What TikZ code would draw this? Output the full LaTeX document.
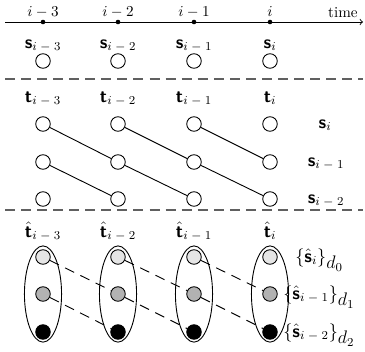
\documentclass[tikz,border=0pt]{standalone}
\usepackage{amsmath}
\usepackage{bm}
\usepackage{tikz}
\usetikzlibrary{shapes.geometric}
\definecolor{dividerGray}{HTML}{606060}
\newcommand{\svar}{\bm{\mathsf{s}}}
\newcommand{\tvar}{\bm{\mathsf{t}}}

\begin{document}
\begin{tikzpicture}[x=0.66pt, y=0.66pt,
    cell/.style={circle, draw, line width=0.6pt, minimum size=9.6pt, inner sep=0pt},
    timedot/.style={circle, fill, minimum size=3pt, inner sep=0pt},
    divider/.style={dividerGray, line width=1pt, dash pattern=on 6.6pt off 4pt},
    stack/.style={ellipse, draw, line width=0.6pt, minimum width=24.5pt, minimum height=63.5pt, inner sep=0pt},
    link/.style={line width=0.6pt},
    hatlink/.style={line width=0.6pt, dash pattern=on 6.6pt off 4.6pt},
    varlabel/.style={font=\large, inner sep=2pt}]
    \useasboundingbox (0,0) rectangle (365,351);
    \coordinate (tstart) at (5,329);
    \coordinate (tend) at (363,329);
    \draw[->, line width=0.6pt] (tstart) -- (tend);
    \node[anchor=base east] (time) at (363,334) {time};
    \coordinate (divAl) at (5,272);
    \coordinate (divAr) at (363,272);
    \draw[divider] (divAl) -- (divAr);
    \coordinate (divBl) at (5,141);
    \coordinate (divBr) at (363,141);
    \draw[divider] (divBl) -- (divBr);
    \foreach \c/\x/\lab/\sub in {0/43/i-3/i\;-\;3, 1/118/i-2/i\;-\;2, 2/194/i-1/i\;-\;1, 3/270/i/i} {
        \node[timedot] (d\c) at (\x,329) {};
        \node[anchor=base] (l\c) at (\x,335) {$\lab$};
        \node[varlabel, anchor=base] (s\c) at (\x,303) {$\svar_{\sub}$};
        \node[cell] (a\c) at (\x,290) {};
        \node[varlabel, anchor=base] (t\c) at (\x,249) {$\tvar_{\sub}$};
        \node[cell] (b\c) at (\x,227) {};
        \node[cell] (m\c) at (\x,189) {};
        \node[cell] (n\c) at (\x,152) {};
        \node[varlabel, anchor=base] (h\c) at (\x,114) {$\hat{\tvar}_{\sub}$};
        \node[stack] (e\c) at (\x,57) {};
        \node[cell, fill=gray!20] (p\c) at (\x,94) {};
        \node[cell, fill=gray!60] (q\c) at (\x,57) {};
        \node[cell, fill=black] (r\c) at (\x,19) {};
    }
    \foreach \c/\n in {0/1, 1/2, 2/3} {
        \draw[link] (b\c) -- (m\n);
        \draw[link] (m\c) -- (n\n);
        \draw[hatlink] (p\c) -- (q\n);
        \draw[hatlink] (q\c) -- (r\n);
    }
    \node[varlabel, anchor=base] (rs0) at (325,223) {$\svar_i$};
    \node[varlabel, anchor=base] (rs1) at (326,185) {$\svar_{i\;-\;1}$};
    \node[varlabel, anchor=base] (rs2) at (326,148) {$\svar_{i\;-\;2}$};
    \node[varlabel, anchor=base west] (rh0) at (292,89) {$\{\hat{\svar}_i\}_{\textstyle d_0}$};
    \node[varlabel, anchor=base west] (rh1) at (280,52) {$\{\hat{\svar}_{i\;-\;1}\}_{\textstyle d_1}$};
    \node[varlabel, anchor=base west] (rh2) at (280,14) {$\{\hat{\svar}_{i\;-\;2}\}_{\textstyle d_2}$};
\end{tikzpicture}
\end{document}
